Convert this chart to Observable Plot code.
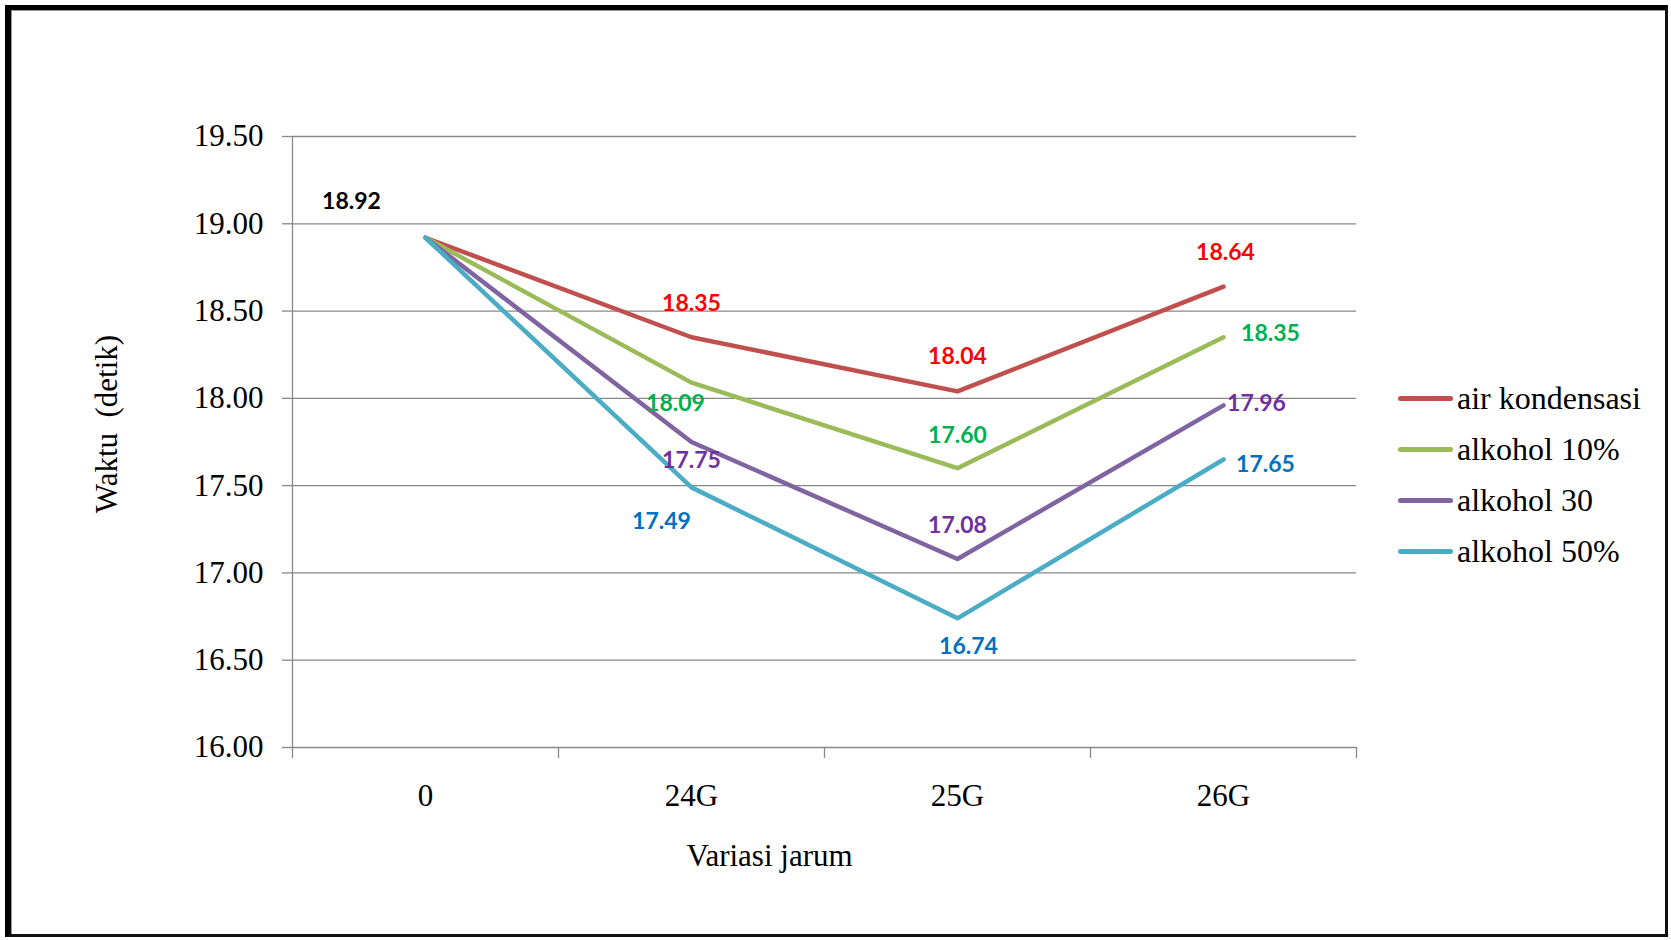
<!DOCTYPE html>
<html>
<head>
<meta charset="utf-8">
<script src="https://cdn.jsdelivr.net/npm/d3@7"></script>
<script src="https://cdn.jsdelivr.net/npm/@observablehq/plot@0.6"></script>
<style>
  html, body { margin: 0; padding: 0; background: #fff; }
  #wrap { position: relative; width: 1671px; height: 940px; overflow: hidden; }
  #frame { position: absolute; left: 5px; top: 5px; right: 3px; bottom: 3px;
           border-left: 6px solid #000; border-top: 5px solid #000;
           border-right: 3px solid #111; border-bottom: 3px solid #111;
           box-shadow: inset 1px 1px 0 #999; pointer-events: none; }
  #legend { position: absolute; left: 1398px; top: 373px; font-family: "Liberation Serif", "Times New Roman", serif; font-size: 32px; color: #000; }
  .item { display: flex; align-items: center; height: 51px; }
  .sw { width: 55px; height: 5px; border-radius: 3px; margin-right: 4px; }
</style>
</head>
<body>
<div id="wrap">
  <div id="chart"></div>
  <div id="legend"></div>
  <div id="frame"></div>
</div>
<script>
// ---- data ----
const categories = ["0", "24G", "25G", "26G"];
const seriesNames = ["air kondensasi", "alkohol 10%", "alkohol 30", "alkohol 50%"];
const airKondensasi = [18.92, 18.35, 18.04, 18.64];
const alkohol10 = [18.92, 18.09, 17.60, 18.35];
const alkohol30 = [18.92, 17.75, 17.08, 17.96];
const alkohol50 = [18.92, 17.49, 16.74, 17.65];
const yTicks = [16.0, 16.5, 17.0, 17.5, 18.0, 18.5, 19.0, 19.5];

// ---- styles ----
const lineColors = ["#C0504D", "#9BBB59", "#8064A2", "#4BACC6"];
const labelColors = ["#FF0000", "#00B050", "#7030A0", "#0070C0"];
const allSeries = [airKondensasi, alkohol10, alkohol30, alkohol50];

const rows = [];
allSeries.forEach((vals, s) => vals.forEach((v, i) => rows.push({series: seriesNames[s], s, i, cat: categories[i], x: i + 0.5, y: v})));

// label offsets (layout): [series, categoryIndex, dx, dy]
const labelLayout = [
  [0, 1, 0, -34], [0, 2, 0, -35], [0, 3, 2, -34],
  [1, 1, -16, 21], [1, 2, 0, -33], [1, 3, 47, -4],
  [2, 1, 0, 19], [2, 2, 0, -33], [2, 3, 33, -2],
  [3, 1, -30, 34], [3, 2, 11, 28], [3, 3, 42, 5]
];

const serif = "Liberation Serif, Times New Roman, serif";
const sans = "Lato, Open Sans, sans-serif";
const labelSize = 23;

const labelMarks = labelLayout.map(([s, i, dx, dy]) =>
  Plot.text(rows.filter(d => d.s === s && d.i === i), {
    x: "x", y: "y", text: d => d.y.toFixed(2), dx, dy,
    fill: labelColors[s], fontSize: labelSize, fontWeight: "bold", fontFamily: sans
  })
);

const chart = Plot.plot({
  width: 1671,
  height: 940,
  marginLeft: 292,
  marginRight: 315,
  marginTop: 136,
  marginBottom: 193,
  style: {background: "transparent", overflow: "visible"},
  x: {type: "linear", domain: [0, 4], axis: null},
  y: {domain: [16, 19.5], axis: null},
  marks: [
    Plot.ruleY(yTicks, {x1: 0, x2: 4, stroke: "#888", strokeWidth: 1.3}),
    Plot.axisY(yTicks, {label: null, tickSize: 10, tickPadding: 19, tickFormat: d => d.toFixed(2), fontSize: 31, fontFamily: serif, fill: "#000", stroke: "#888", strokeWidth: 1.3}),
    Plot.ruleX([0], {y1: 16, y2: 19.5, stroke: "#888", strokeWidth: 1.3}),
    Plot.axisX([0, 1, 2, 3, 4], {label: null, tickSize: 11, tickFormat: () => "", stroke: "#888", strokeWidth: 1.3}),
    Plot.axisX([0.5, 1.5, 2.5, 3.5], {label: null, tickSize: 0, tickPadding: 36, tickFormat: d => categories[Math.floor(d)], fontSize: 31, fontFamily: serif, fill: "#000"}),
    Plot.text(["Waktu  (detik)"], {frameAnchor: "left", textAnchor: "middle", lineAnchor: "middle", rotate: -90, dx: -185, dy: -18, fontSize: 31, fontFamily: serif, fill: "#000"}),
    Plot.text(["Variasi jarum"], {frameAnchor: "bottom", textAnchor: "middle", lineAnchor: "middle", dx: -55, dy: 109, fontSize: 31, fontFamily: serif, fill: "#000"}),
    Plot.line(rows, {x: "x", y: "y", z: "series", stroke: d => lineColors[d.s], strokeWidth: 4.5, strokeLinejoin: "round"}),
    Plot.text(rows.filter(d => d.s === 0 && d.i === 0), {x: "x", y: "y", text: d => d.y.toFixed(2), dx: -74, dy: -36, fill: "#000", fontSize: labelSize, fontWeight: "bold", fontFamily: sans}),
    ...labelMarks
  ]
});
document.getElementById("chart").appendChild(chart);

const legend = document.getElementById("legend");
seriesNames.forEach((name, s) => {
  const item = document.createElement("div");
  item.className = "item";
  const sw = document.createElement("div");
  sw.className = "sw";
  sw.style.background = lineColors[s];
  const t = document.createElement("span");
  t.textContent = name;
  item.appendChild(sw); item.appendChild(t);
  legend.appendChild(item);
});
</script>
</body>
</html>
